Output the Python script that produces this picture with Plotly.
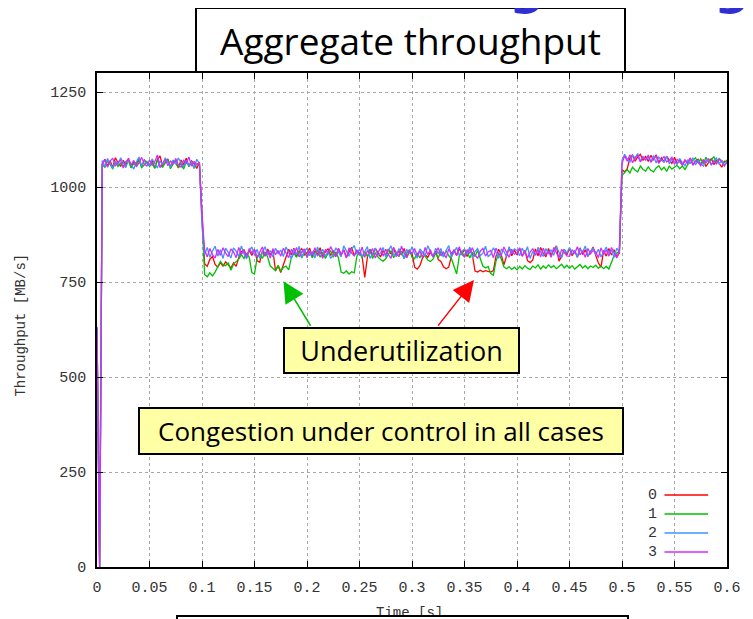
import numpy as np
import plotly.graph_objects as go

# ---------------- data ----------------
time_s = np.round(np.arange(241) * 0.0025, 4)
series_names = ["0", "1", "2", "3"]
x_tick_vals = [0, 0.05, 0.1, 0.15, 0.2, 0.25, 0.3, 0.35, 0.4, 0.45, 0.5, 0.55, 0.6]
x_tick_text = ["0", "0.05", "0.1", "0.15", "0.2", "0.25", "0.3", "0.35", "0.4", "0.45", "0.5", "0.55", "0.6"]
y_tick_vals = [0, 250, 500, 750, 1000, 1250]
y_tick_text = ["0", "250", "500", "750", "1000", "1250"]

flow0 = [
    630, 0, 1060, 1073, 1055, 1069, 1051, 1077, 1064, 1054,
    1070, 1057, 1075, 1052, 1066, 1061, 1073, 1053, 1071, 1064,
    1056, 1070, 1050, 1072, 1082, 1055, 1066, 1074, 1053, 1069,
    1063, 1050, 1071, 1059, 1076, 1054, 1069, 1062, 1049, 1066,
    933, 798, 791, 810, 817, 796, 789, 801, 792, 803,
    795, 787, 800, 791, 814, 830, 835, 818, 833, 820,
    836, 806, 802, 832, 818, 837, 821, 833, 780, 792,
    775, 797, 818, 836, 822, 839, 817, 831, 838, 821,
    827, 839, 817, 832, 822, 840, 816, 830, 837, 820,
    833, 818, 838, 822, 835, 815, 829, 841, 819, 832,
    826, 818, 762, 815, 836, 820, 839, 826, 816, 833,
    820, 837, 824, 841, 817, 833, 821, 838, 815, 829,
    826, 789, 784, 793, 813, 822, 815, 828, 817, 831,
    809, 804, 790, 785, 789, 818, 835, 820, 838, 824,
    836, 817, 839, 822, 779, 776, 781, 777, 780, 778,
    776, 780, 818, 836, 822, 795, 817, 840, 819, 834,
    822, 839, 818, 833, 806, 801, 808, 837, 819, 841,
    826, 816, 838, 820, 834, 845, 805, 818, 836, 822,
    838, 819, 832, 815, 840, 822, 835, 817, 829, 842,
    820, 800, 789, 833, 818, 838, 821, 835, 816, 826,
    1045, 1040, 1048, 1076, 1084, 1068, 1079, 1086, 1070, 1081,
    1067, 1083, 1072, 1085, 1064, 1077, 1066, 1081, 1071, 1062,
    1078, 1061, 1073, 1057, 1070, 1064, 1076, 1059, 1068, 1073,
    1058, 1072, 1054, 1066, 1075, 1059, 1070, 1063, 1052, 1068,
    1066,
]

flow1 = [
    630, 0, 1059, 1052, 1068, 1060, 1047, 1066, 1054, 1063,
    1053, 1065, 1069, 1050, 1062, 1056, 1071, 1051, 1058, 1067,
    1054, 1063, 1049, 1070, 1057, 1052, 1064, 1072, 1048, 1061,
    1069, 1051, 1062, 1047, 1066, 1055, 1064, 1050, 1060, 1063,
    915, 770, 764, 774, 766, 776, 790, 804, 795, 793,
    801, 781, 797, 803, 810, 822, 812, 826, 815, 775,
    771, 814, 824, 812, 829, 816, 792, 786, 780, 794,
    779, 788, 792, 782, 812, 826, 815, 830, 813, 827,
    817, 831, 814, 827, 833, 815, 828, 812, 825, 832,
    815, 829, 813, 776, 773, 779, 771, 777, 774, 818,
    828, 813, 830, 817, 834, 812, 826, 816, 809, 805,
    811, 823, 832, 814, 828, 817, 831, 812, 826, 835,
    815, 811, 827, 813, 830, 818, 808, 804, 810, 826,
    813, 831, 816, 833, 819, 812, 790, 771, 818, 830,
    816, 832, 813, 828, 817, 833, 812, 792, 787, 791,
    772, 768, 805, 824, 811, 790, 785, 790, 783, 789,
    782, 791, 784, 793, 786, 783, 792, 787, 795, 784,
    792, 786, 795, 788, 793, 785, 791, 797, 787, 794,
    786, 793, 784, 791, 796, 787, 793, 785, 792, 788,
    794, 786, 792, 785, 791, 784, 805, 820, 826, 830,
    1030, 1038, 1046, 1037, 1052, 1044, 1040, 1055, 1046, 1042,
    1053, 1044, 1040, 1050, 1056, 1045, 1052, 1041, 1055, 1047,
    1051, 1057, 1048, 1055, 1046, 1059, 1064, 1071, 1077, 1063,
    1074, 1061, 1078, 1065, 1071, 1080, 1062, 1075, 1068, 1064,
    1071,
]

flow2 = [
    630, 0, 1070, 1054, 1075, 1061, 1049, 1068, 1058, 1077,
    1063, 1051, 1072, 1060, 1047, 1066, 1079, 1055, 1069, 1062,
    1056, 1074, 1061, 1050, 1069, 1058, 1077, 1064, 1052, 1071,
    1060, 1076, 1065, 1053, 1070, 1057, 1068, 1049, 1073, 1062,
    900, 822, 841, 815, 832, 844, 818, 835, 812, 839,
    828, 813, 840, 831, 817, 845, 824, 811, 834, 842,
    820, 836, 812, 829, 843, 821, 833, 816, 839, 825,
    834, 817, 842, 828, 811, 837, 822, 844, 815, 831,
    839, 819, 830, 813, 842, 824, 836, 817, 831, 812,
    821, 840, 827, 816, 845, 830, 818, 836, 846, 823,
    837, 817, 831, 843, 812, 828, 839, 820, 826, 841,
    815, 833, 845, 822, 818, 838, 827, 811, 836, 824,
    843, 825, 813, 837, 828, 819, 845, 830, 816, 839,
    824, 838, 817, 833, 846, 815, 828, 841, 820, 831,
    836, 822, 842, 814, 830, 838, 819, 826, 844, 817,
    823, 840, 828, 812, 836, 831, 816, 843, 825, 837,
    833, 819, 839, 825, 843, 812, 830, 820, 841, 827,
    817, 838, 824, 835, 820, 844, 830, 813, 836, 826,
    841, 823, 833, 815, 838, 828, 845, 819, 831, 839,
    822, 836, 816, 829, 842, 825, 834, 814, 839, 828,
    1070, 1086, 1074, 1066, 1083, 1077, 1088, 1068, 1080, 1072,
    1078, 1067, 1083, 1063, 1079, 1070, 1065, 1081, 1061, 1074,
    1068, 1059, 1075, 1064, 1056, 1072, 1062, 1077, 1058, 1070,
    1063, 1055, 1070, 1074, 1058, 1067, 1076, 1060, 1071, 1057,
    1064,
]

flow3 = [
    630, 0, 1058, 1072, 1052, 1068, 1076, 1055, 1066, 1071,
    1050, 1067, 1074, 1058, 1070, 1053, 1064, 1078, 1060, 1055,
    1071, 1057, 1066, 1084, 1051, 1063, 1073, 1056, 1068, 1061,
    1075, 1058, 1052, 1070, 1063, 1079, 1055, 1067, 1059, 1064,
    925, 834, 816, 838, 822, 813, 836, 820, 840, 826,
    817, 837, 829, 814, 841, 823, 833, 815, 838, 826,
    835, 815, 828, 842, 819, 832, 813, 838, 822, 833,
    818, 839, 826, 814, 836, 822, 841, 816, 829, 837,
    814, 832, 821, 840, 818, 830, 812, 836, 825, 843,
    829, 816, 838, 822, 833, 813, 840, 826, 819, 835,
    821, 842, 815, 832, 826, 838, 813, 829, 840, 818,
    836, 822, 812, 839, 828, 817, 844, 826, 814, 833,
    825, 838, 818, 832, 814, 841, 822, 835, 816, 829,
    840, 819, 828, 813, 837, 825, 833, 820, 843, 822,
    816, 835, 826, 840, 821, 812, 831, 838, 818, 829,
    833, 814, 839, 825, 820, 842, 828, 815, 836, 823,
    826, 840, 818, 832, 813, 829, 838, 821, 835, 816,
    839, 822, 831, 815, 841, 826, 813, 836, 828, 819,
    818, 835, 825, 843, 821, 832, 815, 838, 824, 833,
    829, 814, 840, 822, 835, 818, 841, 825, 813, 832,
    1062, 1082, 1068, 1085, 1064, 1076, 1083, 1066, 1079, 1071,
    1084, 1065, 1075, 1081, 1062, 1072, 1080, 1066, 1070, 1078,
    1060, 1073, 1066, 1058, 1071, 1062, 1076, 1057, 1068, 1065,
    1056, 1071, 1064, 1074, 1059, 1069, 1061, 1073, 1066, 1055,
    1067,
]

flows = [flow0, flow1, flow2, flow3]
for f in flows:
    assert len(f) == len(time_s), len(f)

line_colors = ["#ff0000", "#00c000", "#3d95ff", "#d22cff"]

# ---------------- geometry (screen pixels -> paper); page has 8px body margin ----------------
OFF = 8
W, H = 753 - OFF, 619 - OFF
PL, PR, PT, PB = 97, 732, 73, 567   # plot area in screen pixels


def px(xp):
    return (xp - PL) / (PR - PL)


def py(yp):
    return (PB - yp) / (PB - PT)


fig = go.Figure()
for name, vals, col in zip(series_names, flows, line_colors):
    fig.add_trace(go.Scatter(x=time_s, y=vals, mode="lines", name=name,
                             line=dict(color=col, width=1.3), showlegend=False))

mono = "Liberation Mono"
tick_font = dict(family=mono, size=15, color="#333333")
axis_common = dict(showline=True, linecolor="black", linewidth=1.5, mirror="ticks",
                   ticks="inside", ticklen=6, tickcolor="black", tickwidth=1,
                   showgrid=True, gridcolor="#a8a8a8", gridwidth=1, griddash="dot",
                   zeroline=False, tickfont=tick_font)

fig.update_layout(
    width=W, height=H,
    margin=dict(l=PL - OFF, r=W - (PR - OFF), t=PT - OFF, b=H - (PB - OFF), pad=0),
    paper_bgcolor="white", plot_bgcolor="white",
    showlegend=False,
    xaxis=dict(range=[0, 0.6], tickmode="array", tickvals=x_tick_vals, ticktext=x_tick_text,
               ticklabelstandoff=5, **axis_common),
    yaxis=dict(range=[0, 1300], tickmode="array", tickvals=y_tick_vals, ticktext=y_tick_text,
               ticklabelstandoff=6, **axis_common),
)

box_font = "Open Sans"
ann = []
# axis titles
ann.append(dict(text="Throughput [MB/s]", xref="paper", yref="paper", x=px(20), y=py(325),
                textangle=-90, showarrow=False, xanchor="center", yanchor="middle",
                font=dict(family=mono, size=14, color="#333333")))
ann.append(dict(text="Time [s]", xref="paper", yref="paper", x=px(412), y=py(613),
                showarrow=False, xanchor="center", yanchor="middle",
                font=dict(family=mono, size=14, color="#333333")))
# white box covering bottom (slide element)
ann.append(dict(text=" ", xref="paper", yref="paper", x=px(177), y=py(615),
                xanchor="left", yanchor="top", width=449, height=30, showarrow=False,
                bgcolor="white", bordercolor="black", borderwidth=2, borderpad=0))
# title box
ann.append(dict(text="Aggregate throughput", xref="paper", yref="paper", x=px(413), y=py(40.5),
                xanchor="center", yanchor="middle", width=427, height=62, showarrow=False,
                bgcolor="white", bordercolor="black", borderwidth=2, borderpad=0,
                font=dict(family=box_font, size=37, color="black")))
# partial blue slide heading letters at the very top
for xc in (530, 737):
    ann.append(dict(text="<b>g</b>", xref="paper", yref="paper", x=px(xc), y=py(18),
                    xanchor="center", yanchor="bottom", showarrow=False,
                    font=dict(family="DejaVu Sans", size=50, color="#2f2fd2")))
# callouts
ann.append(dict(text="Underutilization", xref="paper", yref="paper", x=px(403.5), y=py(350.5),
                xanchor="center", yanchor="middle", width=233, height=43, showarrow=False,
                bgcolor="#ffffa6", bordercolor="black", borderwidth=2, borderpad=0,
                font=dict(family=box_font, size=27, color="black")))
ann.append(dict(text="Congestion under control in all cases", xref="paper", yref="paper",
                x=px(383), y=py(431), xanchor="center", yanchor="middle", width=482, height=44,
                showarrow=False, bgcolor="#ffffa6", bordercolor="black", borderwidth=2, borderpad=0,
                font=dict(family=box_font, size=26, color="black")))
# arrows
ann.append(dict(text="", xref="x", yref="y", x=0.1776, y=752, ax=28, ay=46, showarrow=True,
                arrowhead=2, arrowsize=2.8, arrowwidth=1.5, arrowcolor="#00c000", standoff=0))
ann.append(dict(text="", xref="x", yref="y", x=0.359, y=755, ax=-37, ay=47, showarrow=True,
                arrowhead=2, arrowsize=2.8, arrowwidth=1.5, arrowcolor="#ff0000", standoff=0))
# custom legend (text left of line sample)
legend_y = [495, 514, 533, 552]
shapes = []
for name, col, yy in zip(series_names, line_colors, legend_y):
    ann.append(dict(text=name, xref="paper", yref="paper", x=px(663), y=py(yy),
                    xanchor="right", yanchor="middle", showarrow=False,
                    font=dict(family=mono, size=15, color="#333333")))
    shapes.append(dict(type="line", xref="paper", yref="paper", x0=px(669), x1=px(713),
                       y0=py(yy), y1=py(yy), line=dict(color=col, width=1.3)))

fig.update_layout(annotations=ann, shapes=shapes)
fig.write_html("out.html")
